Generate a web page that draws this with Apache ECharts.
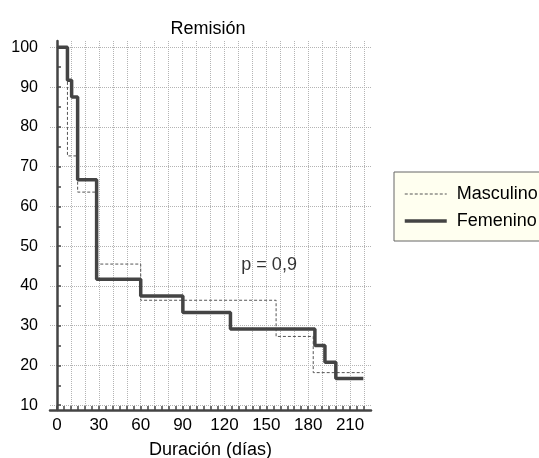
<!DOCTYPE html>
<html>
<head>
<meta charset="utf-8">
<script src="https://cdn.jsdelivr.net/npm/echarts@6/dist/echarts.min.js"></script>
<style>
html,body{margin:0;padding:0;background:#fff;}
#c{width:539px;height:458px;}
</style>
</head>
<body>
<div id="c"></div>
<script>
// ---- data ----
const chartTitle = 'Remisión';
const xAxisName = 'Duración (días)';
const seriesNames = ['Masculino', 'Femenino'];

const masculinoDias = [0, 7.5, 14.8, 28.2, 60, 157, 183.6, 219.5];
const masculinoSurv = [100, 72.7, 63.6, 45.5, 36.4, 27.3, 18.2, 18.2];

const femeninoDias = [0, 7.5, 10.5, 14.8, 28.4, 60, 90.2, 124.3, 184.8, 192, 199.8, 219.5];
const femeninoSurv = [100, 91.7, 87.5, 66.7, 41.7, 37.5, 33.3, 29.2, 25, 20.8, 16.7, 16.7];

const xLabels = [0, 30, 60, 90, 120, 150, 180, 210];
const xTicks = [0,5,10,15,20,25,30,35,40,45,50,55,60,65,70,75,80,85,90,95,100,105,110,115,120,125,130,135,140,145,150,155,160,165,170,175,180,185,190,195,200,205,210,215,220];
const xGrid = [0,10,20,30,40,50,60,70,80,90,100,110,120,130,140,150,160,170,180,190,200,210,220];
const yLabels = [10, 20, 30, 40, 50, 60, 70, 80, 90, 100];
const yTicks = [10,15,20,25,30,35,40,45,50,55,60,65,70,75,80,85,90,95,100];
const yGrid = [10, 20, 30, 40, 50, 60, 70, 80, 90, 100];

const pText = 'p = 0,9';
const pPos = [152, 45.2];

// ---- chart ----
const pair = (xs, ys) => xs.map((x, i) => [x, ys[i]]);
const font = "'Liberation Sans', Arial, Helvetica, sans-serif";
const axisColor = '#444';
const gridStyle = { color: '#b4b4b4', width: 1, type: [1, 1] };

const chart = echarts.init(document.getElementById('c'), null, { renderer: 'canvas' });
chart.setOption({
  animation: false,
  backgroundColor: '#fff',
  textStyle: { fontFamily: font },
  title: {
    text: chartTitle,
    left: 203, top: 15, textAlign: 'center',
    textStyle: { fontFamily: font, fontSize: 18, fontWeight: 'normal', color: '#000' }
  },
  legend: {
    data: seriesNames,
    orient: 'vertical',
    left: 394, top: 172,
    backgroundColor: '#fffff0',
    borderColor: '#666', borderWidth: 1, borderRadius: 0,
    padding: [13, 20, 11, 9],
    itemWidth: 42, itemHeight: 14, itemGap: 9,
    itemStyle: { opacity: 0 },
    lineStyle: { width: 'inherit' },
    textStyle: { fontFamily: font, fontSize: 18, lineHeight: 18, color: '#000', padding: [0, 0, 0, 5] }
  },
  grid: { left: 50, right: 168, top: 41, bottom: 48, containLabel: false, outerBoundsMode: 'none' },
  xAxis: [
    {
      type: 'value', min: -5, max: 225,
      name: xAxisName, nameLocation: 'middle', nameGap: 31,
      nameTextStyle: { fontFamily: font, fontSize: 18, color: '#000' },
      axisLine: { show: true, lineStyle: { color: axisColor, width: 2.5 } },
      axisTick: { show: true, inside: true, length: 4, customValues: xTicks, lineStyle: { color: axisColor, width: 1.5 } },
      axisLabel: { show: true, customValues: xLabels, margin: 7, fontFamily: font, fontSize: 17, color: '#000' },
      splitLine: { show: false }
    },
    {
      type: 'value', min: -5, max: 225, position: 'bottom',
      axisLine: { show: false },
      axisTick: { show: false, customValues: xGrid },
      axisLabel: { show: false },
      splitLine: { show: true, lineStyle: gridStyle }
    }
  ],
  yAxis: [
    {
      type: 'value', min: 8.8, max: 101.6,
      axisLine: { show: true, lineStyle: { color: axisColor, width: 2.5 } },
      axisTick: { show: true, inside: true, length: 4, customValues: yTicks, lineStyle: { color: axisColor, width: 1.5 } },
      axisLabel: { show: true, customValues: yLabels, margin: 12, fontFamily: font, fontSize: 16, color: '#000' },
      splitLine: { show: false }
    },
    {
      type: 'value', min: 8.8, max: 101.6, position: 'left',
      axisLine: { show: false },
      axisTick: { show: false, customValues: yGrid },
      axisLabel: { show: false },
      splitLine: { show: true, lineStyle: gridStyle }
    }
  ],
  series: [
    {
      name: seriesNames[0], type: 'line', step: 'end', symbol: 'none',
      xAxisIndex: 0, yAxisIndex: 0, z: 3,
      data: pair(masculinoDias, masculinoSurv),
      lineStyle: { color: '#555', width: 1, type: [3, 2] },
      itemStyle: { color: '#555' }
    },
    {
      name: seriesNames[1], type: 'line', step: 'end', symbol: 'none',
      xAxisIndex: 0, yAxisIndex: 0, z: 4,
      data: pair(femeninoDias, femeninoSurv),
      lineStyle: { color: '#444', width: 3.5 },
      itemStyle: { color: '#444' }
    },
    {
      name: 'p', type: 'scatter', symbolSize: 0, silent: true,
      xAxisIndex: 0, yAxisIndex: 0,
      data: [pPos],
      label: { show: true, position: 'inside', formatter: pText, fontFamily: font, fontSize: 18, color: '#000' }
    }
  ]
});
</script>
</body>
</html>
